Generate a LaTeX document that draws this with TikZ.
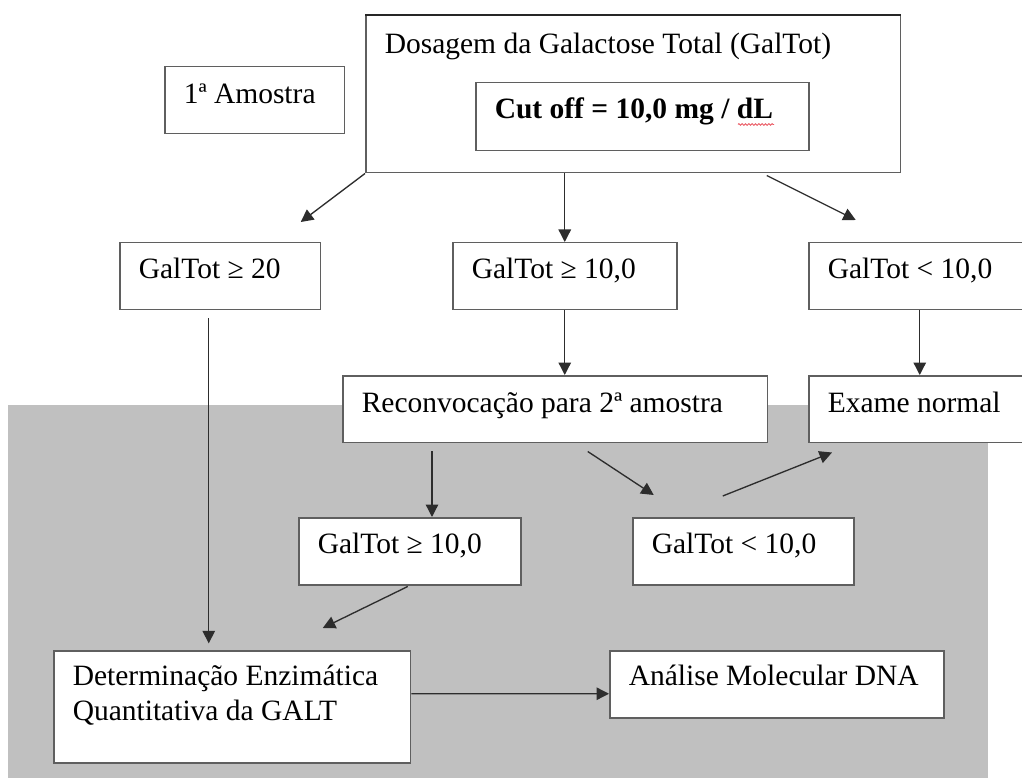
\documentclass[tikz,border=0pt]{standalone}
\usepackage{fontspec}
\setmainfont{Liberation Serif}
\usetikzlibrary{arrows.meta, calc, decorations.pathmorphing}
\definecolor{shadegray}{RGB}{192, 192, 192}
\definecolor{boxline}{RGB}{95, 95, 95}
\definecolor{arrowline}{RGB}{45, 45, 45}
\definecolor{spellred}{RGB}{235, 90, 100}

\begin{document}
\begin{tikzpicture}[x=0.6pt, y=-0.6pt,
  box/.style={draw=boxline, fill=white, line width=0.9pt, anchor=north west,
    align=flush left, inner xsep=11.4pt, inner ysep=0pt,
    text height=21.6pt, text depth=18.6pt,
    font=\fontsize{17.7pt}{21pt}\selectfont},
  arr/.style={draw=arrowline, line width=0.8pt, -{Triangle[length=7.5pt, width=7.5pt]}}]

  \fill[white] (0, 0) rectangle (1022, 778);
  \useasboundingbox (0, 0) rectangle (1022, 778);
  \fill[shadegray] (8, 405) rectangle (988, 790);

  \node[box, text width=85.2pt, text height=22.2pt, text depth=18pt] (first) at (164, 66) {1ª Amostra};
  \node[box, text width=298.2pt, text height=22.8pt, text depth=71.4pt] (dos) at (365, 15) {Dosagem da Galactose Total (GalTot)};
  \draw[black!85, line width=1.5pt] (dos.north west) -- (dos.north east);
  \node[box, text width=177pt, text depth=19.2pt, font=\fontsize{17.7pt}{21pt}\selectfont\bfseries] (cut) at (475, 82) {Cut off = 10,0 mg / dL};
  \draw[spellred, line width=0.5pt, decorate, decoration={zigzag, amplitude=0.5pt, segment length=2pt}]
    ($(cut.south west)+(263, -27)$) -- ($(cut.south west)+(299, -27)$);

  \node[box, text width=97.8pt] (g20) at (119, 242) {GalTot ≥ 20};
  \node[box, text width=111.6pt] (g10a) at (452, 242) {GalTot ≥ 10,0};
  \node[box, text width=110.4pt] (lt10a) at (808, 242) {GalTot < 10,0};

  \node[box, text width=232.2pt, text height=22.2pt, text depth=18pt] (recon) at (342, 375) {Reconvocação para 2ª amostra};
  \node[box, text width=110.4pt, text height=22.2pt, text depth=18pt] (exame) at (808, 375) {Exame normal};

  \node[box, text width=110.4pt] (g10b) at (298, 517) {GalTot ≥ 10,0};
  \node[box, text width=109.8pt] (lt10b) at (632, 517) {GalTot < 10,0};

  \node[box, text width=191.4pt, text height=21pt, text depth=46.2pt] (det) at (53, 650) {Determinação Enzimática\\Quantitativa da GALT};
  \node[box, text width=177.6pt, text height=21pt, text depth=19.2pt] (dna) at (609, 650) {Análise Molecular DNA};

  \draw[arr] (dos.south west) -- ($(g20.north)+(80.5, -20)$);
  \draw[arr] (g10a.north |- dos.south) -- (g10a.north);
  \draw[arr] ($(dos.south)+(133.5, 2)$) -- ($(lt10a.north)+(-64, -22)$);
  \draw[arr, shorten >=4pt] ($(g20.south)+(-11.5, 8)$) coordinate (g20d) -- (g20d |- det.north);
  \draw[arr] (g10a.south) -- (g10a.south |- recon.north);
  \draw[arr] (lt10a.south) -- (lt10a.south |- exame.north);
  \draw[arr] ($(recon.south west)+(90, 8)$) coordinate (recd) -- (recd |- g10b.north);
  \draw[arr] ($(recon.south)+(32.5, 8)$) -- ($(lt10b.north)+(-89.5, -22)$);
  \draw[arr] ($(lt10b.north)+(-20.5, -21)$) -- ($(exame.south west)+(24, 9)$);
  \draw[arr] ($(g10b.south)+(-2, 1)$) -- ($(det.north)+(90.5, -22)$);
  \draw[arr] ($(det.east)+(0, -13)$) -- ($(dna.west)+(0, 9.5)$);
\end{tikzpicture}
\end{document}
